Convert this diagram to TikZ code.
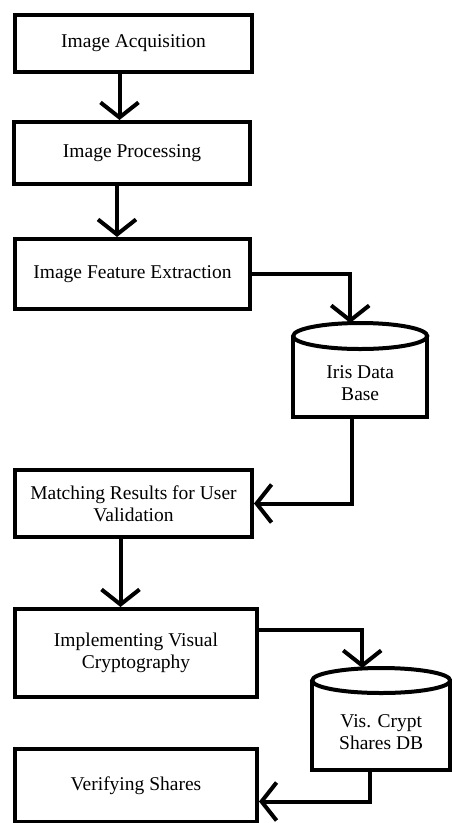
\documentclass[tikz,border=0pt]{standalone}
\usepackage{fontspec}
\setmainfont{Liberation Serif}
\usepackage{tikz}
\usetikzlibrary{arrows.meta,calc}
\definecolor{cInk}{HTML}{000000}
\tikzset{
  pbox/.style={draw=cInk,line width=4pt,anchor=north west,align=center,text=cInk,inner sep=2pt,font=\fontsize{19.5}{22}\selectfont},
  dbbody/.style={anchor=north west,align=center,text=cInk,inner sep=2pt,font=\fontsize{19.5}{22}\selectfont},
  dbline/.style={draw=cInk,line width=4pt,line join=miter},
  arr/.style={-{Straight Barb[length=15pt,width=38pt]},line width=4pt,line join=miter,color=cInk},
}

\begin{document}
\begin{tikzpicture}[x=1pt,y=-1pt]
    \useasboundingbox (0,0) rectangle (452,823);
    \fill[white] (0,0) rectangle (452,823);
    % process boxes
    \node[pbox,minimum width=237,minimum height=57] (acq)    at (13,13)  {Image Acquisition};
    \node[pbox,minimum width=236,minimum height=62] (proc)   at (12,120) {Image Processing};
    \node[pbox,minimum width=235,minimum height=70] (feat)   at (13,237) {Image Feature Extraction};
    \node[pbox,minimum width=237,minimum height=67] (match)  at (13,468) {Matching Results for User\\ Validation};
    \node[pbox,minimum width=242,minimum height=88] (impl)   at (13,607) {Implementing Visual\\ Cryptography};
    \node[pbox,minimum width=242,minimum height=73] (verify) at (13,747) {Verifying Shares};
    % data bases (body below the top ellipse)
    \node[dbbody,minimum width=134,minimum height=68] (iris)  at (293,349) {Iris Data\\ Base};
    \node[dbbody,minimum width=138,minimum height=77] (crypt) at (312,693) {Vis. Crypt\\ Shares DB};
    \draw[dbline] ([yshift=13pt]iris.north west) -- (iris.south west) -- (iris.south east) -- ([yshift=13pt]iris.north east);
    \draw[dbline] ([yshift=13pt]iris.north) ellipse [x radius=67pt,y radius=13pt];
    \draw[dbline] ([yshift=12.5pt]crypt.north west) -- (crypt.south west) -- (crypt.south east) -- ([yshift=12.5pt]crypt.north east);
    \draw[dbline] ([yshift=12.5pt]crypt.north) ellipse [x radius=69pt,y radius=12.5pt];
    % connectors
    \draw[arr] ([xshift=-14pt]acq.south) -- ([xshift=-14pt]acq.south |- proc.north);
    \draw[arr] ([xshift=-15pt]proc.south) -- ([xshift=-15pt]proc.south |- feat.north);
    \draw[arr] (feat.east) -| ([shift={(-10pt,26pt)}]iris.north);
    \draw[arr] ([xshift=-8pt]iris.south) |- (match.east);
    \draw[arr] ([xshift=-13pt]match.south) -- ([xshift=-13pt]match.south |- impl.north);
    \draw[arr] ([yshift=23pt]impl.east) -| ([shift={(-19pt,25pt)}]crypt.north);
    \draw[arr] ([xshift=-11pt]crypt.south) |- ([yshift=-16pt]verify.east);
\end{tikzpicture}
\end{document}
